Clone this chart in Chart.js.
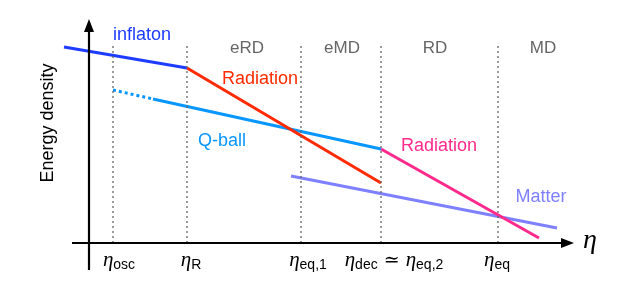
<!DOCTYPE html>
<html>
<head>
<meta charset="utf-8">
<script src="https://cdn.jsdelivr.net/npm/chart.js@4.4.1/dist/chart.umd.min.js"></script>
<style>
  html, body { margin: 0; padding: 0; background: #fff; }
  #wrap { width: 632px; height: 297px; position: relative; }
</style>
</head>
<body>
<div id="wrap"><canvas id="energy-chart"></canvas></div>
<script>
// schematic values: x = log eta (arbitrary units), y = log energy density (arbitrary units)
const boundaries = [2.4, 9.8, 21.2, 29.2, 40.9]; // eta_osc, eta_R, eta_eq1, eta_dec, eta_eq
const boundaryTop = 19.9;

const inflatonX = [-2.5, 9.8];
const inflatonY = [19.6, 17.5];
const radEarlyX = [9.8, 29.2];
const radEarlyY = [17.5, 6.0];
const qballOscX = [2.4, 6.4];
const qballOscY = [15.3, 14.4];
const qballX = [6.4, 29.2];
const qballY = [14.4, 9.4];
const radLateX = [29.2, 45.0];
const radLateY = [9.4, 0.5];
const matterX = [20.2, 46.8];
const matterY = [6.7, 1.5];

const eraLabels = ['eRD', 'eMD', 'RD', 'MD'];
const tickLabels = [
  [['η', 'm'], ['osc', 's']],
  [['η', 'm'], ['R', 's']],
  [['η', 'm'], ['eq,1', 's']],
  [['η', 'm'], ['dec', 's'], [' ≃ ', 'o'], ['η', 'm'], ['eq,2', 's']],
  [['η', 'm'], ['eq', 's']]
];

function pts(xs, ys) {
  return xs.map((x, i) => ({ x: x, y: ys[i] }));
}

function line(label, xs, ys, color, dash) {
  return {
    label: label,
    data: pts(xs, ys),
    showLine: true,
    borderColor: color,
    borderWidth: 3,
    borderDash: dash || [],
    pointRadius: 0,
    fill: false
  };
}

const datasets = boundaries.map((b, i) => ({
  label: 'boundary' + i,
  data: [{ x: b, y: 0 }, { x: b, y: boundaryTop }],
  showLine: true,
  borderColor: '#666',
  borderWidth: 1.3,
  borderDash: [2, 3],
  pointRadius: 0
}));
datasets.push(
  line('inflaton', inflatonX, inflatonY, '#1e3cff'),
  line('Radiation', radEarlyX, radEarlyY, '#ff2a00'),
  line('Q-ball osc', qballOscX, qballOscY, '#0896ff', [3, 3]),
  line('Q-ball', qballX, qballY, '#0896ff'),
  line('Radiation late', radLateX, radLateY, '#ff2a8c'),
  line('Matter', matterX, matterY, '#7f80ff')
);

function drawMath(ctx, parts, cx, baseline) {
  const fonts = {
    m: 'italic 21px "Liberation Serif"',
    s: '14px "Liberation Sans"',
    o: '19px "DejaVu Serif"'
  };
  let total = 0;
  parts.forEach(p => { ctx.font = fonts[p[1]]; total += ctx.measureText(p[0]).width; });
  let x = cx - total / 2;
  ctx.textAlign = 'left';
  ctx.textBaseline = 'alphabetic';
  parts.forEach(p => {
    ctx.font = fonts[p[1]];
    ctx.fillText(p[0], x, p[1] === 's' ? baseline + 3 : baseline);
    x += ctx.measureText(p[0]).width;
  });
}

const overlay = {
  id: 'overlay',
  afterDatasetsDraw(chart) {
    const ctx = chart.ctx;
    const xs = chart.scales.x, ys = chart.scales.y;
    const px = v => xs.getPixelForValue(v);
    const py = v => ys.getPixelForValue(v);
    ctx.save();

    // axes with arrows
    ctx.strokeStyle = '#000';
    ctx.fillStyle = '#000';
    ctx.lineWidth = 2.2;
    ctx.beginPath();
    ctx.moveTo(px(0), py(-2.7));
    ctx.lineTo(px(0), py(21.5));
    ctx.moveTo(px(-1.7), py(0));
    ctx.lineTo(px(47.8), py(0));
    ctx.stroke();
    ctx.beginPath();
    ctx.moveTo(px(0), py(22.4));
    ctx.lineTo(px(0) - 5, py(22.4) + 13);
    ctx.lineTo(px(0) + 5, py(22.4) + 13);
    ctx.closePath();
    ctx.fill();
    ctx.beginPath();
    ctx.moveTo(px(48.5), py(0));
    ctx.lineTo(px(48.5) - 13, py(0) - 5);
    ctx.lineTo(px(48.5) - 13, py(0) + 5);
    ctx.closePath();
    ctx.fill();

    // axis titles
    ctx.font = 'italic 28px "Liberation Serif"';
    ctx.textAlign = 'center';
    ctx.textBaseline = 'middle';
    ctx.fillText('η', px(50.1), py(0.2));
    ctx.save();
    ctx.translate(px(-4.1), py(12.0));
    ctx.rotate(-Math.PI / 2);
    ctx.font = '18px "Liberation Sans"';
    ctx.fillText('Energy density', 0, 0);
    ctx.restore();

    // era labels
    ctx.font = '17px "Liberation Sans"';
    ctx.fillStyle = '#666';
    const eraX = [15.8, 25.3, 34.6, 45.4];
    eraLabels.forEach((t, i) => ctx.fillText(t, px(eraX[i]), py(19.5)));

    // curve labels
    ctx.font = '18px "Liberation Sans"';
    const curveLabels = [
      ['inflaton', 5.3, 20.8, '#1e3cff'],
      ['Radiation', 17.1, 16.4, '#ff2a00'],
      ['Q-ball', 13.3, 10.2, '#0896ff'],
      ['Radiation', 35.0, 9.7, '#ff2a8c'],
      ['Matter', 45.2, 4.6, '#7f80ff']
    ];
    curveLabels.forEach(c => {
      ctx.fillStyle = c[3];
      ctx.fillText(c[0], px(c[1]), py(c[2]));
    });

    // tick labels
    ctx.fillStyle = '#000';
    const tickX = [3.0, 10.2, 21.9, 30.5, 40.8];
    tickLabels.forEach((parts, i) => drawMath(ctx, parts, px(tickX[i]), py(-2.3)));

    ctx.restore();
  }
};

new Chart(document.getElementById('energy-chart').getContext('2d'), {
  type: 'scatter',
  data: { datasets: datasets },
  options: {
    responsive: true,
    maintainAspectRatio: false,
    animation: false,
    layout: { padding: 0 },
    scales: {
      x: { type: 'linear', min: -8.9, max: 54.3, display: false },
      y: { type: 'linear', min: -5.4, max: 24.3, display: false }
    },
    plugins: {
      legend: { display: false },
      tooltip: { enabled: false }
    }
  },
  plugins: [overlay]
});
</script>
</body>
</html>
